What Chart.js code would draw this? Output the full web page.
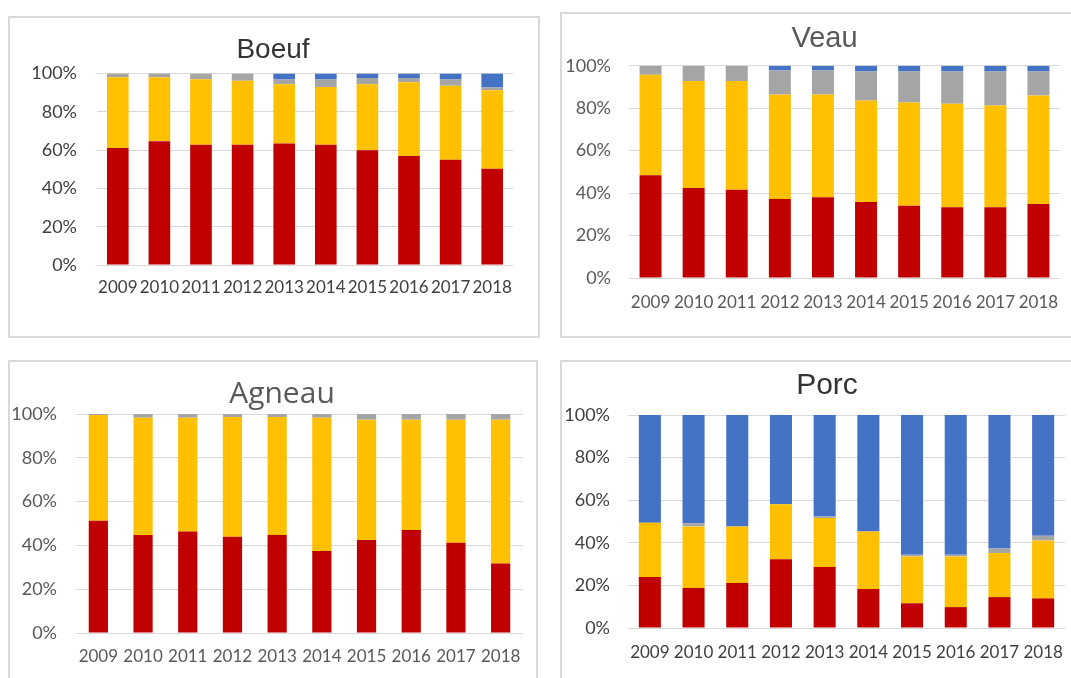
<!DOCTYPE html>
<html>
<head>
<meta charset="utf-8">
<script src="https://cdn.jsdelivr.net/npm/chart.js@4.4.1/dist/chart.umd.min.js"></script>
<style>
  html, body { margin: 0; padding: 0; background: #fff; }
  body { width: 1071px; height: 678px; overflow: hidden; position: relative; }
  .box { position: absolute; box-sizing: border-box; border: 2px solid #d9d9d9; background: #fff; }
  canvas { position: absolute; }
</style>
</head>
<body>
<div class="box" style="left:8px; top:16px; width:532px; height:322px;"></div>
<div class="box" style="left:560px; top:12px; width:540px; height:326px;"></div>
<div class="box" style="left:8px; top:360px; width:530px; height:340px;"></div>
<div class="box" style="left:560px; top:360px; width:540px; height:340px;"></div>

<canvas id="boeuf" style="left:10px; top:18px;" width="526" height="317"></canvas>
<canvas id="veau" style="left:562px; top:14px;" width="525" height="321"></canvas>
<canvas id="agneau" style="left:10px; top:362px;" width="544" height="316"></canvas>
<canvas id="porc" style="left:562px; top:362px;" width="530" height="316"></canvas>

<script>
const annees = ['2009', '2010', '2011', '2012', '2013', '2014', '2015', '2016', '2017', '2018'];
const ticksY = [0, 20, 40, 60, 80, 100];

// parts en %
const boeufRouge  = [61.1, 64.6, 62.8, 62.8, 63.5, 62.8, 60.0, 56.9, 55.0, 50.3];
const boeufJaune  = [37.0, 33.5, 34.2, 33.5, 30.9, 30.2, 34.4, 38.6, 38.7, 41.0];
const boeufGris   = [1.9, 1.9, 3.0, 3.7, 2.5, 3.9, 3.3, 2.2, 3.2, 1.5];
const boeufBleu   = [0, 0, 0, 0, 3.1, 3.1, 2.3, 2.3, 3.1, 7.2];

const veauRouge   = [48.4, 42.4, 41.6, 37.2, 38.0, 35.8, 34.1, 33.4, 33.4, 34.9];
const veauJaune   = [47.4, 50.4, 51.2, 49.3, 48.5, 47.9, 48.6, 48.7, 47.9, 51.1];
const veauGris    = [4.2, 7.2, 7.2, 11.3, 11.3, 13.6, 14.6, 15.2, 16.0, 11.3];
const veauBleu    = [0, 0, 0, 2.2, 2.2, 2.7, 2.7, 2.7, 2.7, 2.7];

const agneauRouge = [51.2, 44.8, 46.3, 43.9, 44.8, 37.5, 42.5, 47.0, 41.2, 31.7];
const agneauJaune = [48.3, 53.5, 52.0, 54.7, 53.8, 60.8, 54.9, 50.4, 56.2, 65.7];
const agneauGris  = [0.5, 1.7, 1.7, 1.4, 1.4, 1.7, 2.6, 2.6, 2.6, 2.6];
const agneauBleu  = [0, 0, 0, 0, 0, 0, 0, 0, 0, 0];

const porcRouge   = [23.9, 18.8, 21.1, 32.3, 28.6, 18.3, 11.6, 9.8, 14.5, 13.9];
const porcJaune   = [25.5, 28.9, 26.6, 25.8, 23.0, 27.0, 22.0, 23.8, 20.7, 27.2];
const porcGris    = [0, 1.5, 0, 0, 0.7, 0, 0.8, 0.8, 2.1, 2.2];
const porcBleu    = [50.6, 50.8, 52.3, 41.9, 47.7, 54.7, 65.6, 65.6, 62.7, 56.7];

const couleurs = ['#C00000', '#FFC000', '#A5A5A5', '#4472C4'];

function graphique(id, titre, series, o) {
    new Chart(document.getElementById(id), {
        type: 'bar',
        data: {
            labels: annees,
            datasets: series.map((d, i) => ({
                label: 'Série ' + (i + 1),
                data: d,
                backgroundColor: couleurs[i],
                borderWidth: 0,
                categoryPercentage: 1,
                barPercentage: o.bar
            }))
        },
        options: {
            responsive: false,
            animation: false,
            layout: { padding: 0 },
            scales: {
                x: {
                    stacked: true,
                    grid: { display: false, drawTicks: false },
                    border: { display: false },
                    ticks: {
                        padding: o.xPad,
                        maxRotation: 0,
                        autoSkip: false,
                        color: o.tickColor,
                        font: { family: 'Lato', size: 17 }
                    },
                    afterFit: s => { s.height = o.xHeight; }
                },
                y: {
                    stacked: true,
                    min: 0,
                    max: 100,
                    afterBuildTicks: s => { s.ticks = ticksY.map(v => ({ value: v })); },
                    grid: { color: '#d9d9d9', lineWidth: 1, drawTicks: false },
                    border: { display: false },
                    ticks: {
                        padding: o.yPad,
                        color: o.tickColor,
                        font: { family: 'Lato', size: 18 },
                        callback: v => v + '%'
                    },
                    afterFit: s => { s.width = o.yWidth; }
                },
                marge: {
                    axis: 'y',
                    position: 'right',
                    display: true,
                    grid: { display: false },
                    border: { display: false },
                    ticks: { display: false },
                    afterFit: s => { s.width = o.right; }
                }
            },
            plugins: {
                legend: { display: false },
                tooltip: { enabled: false },
                title: {
                    display: true,
                    text: titre,
                    color: o.titleColor,
                    padding: { top: o.tTop, bottom: o.tBottom },
                    font: { family: o.titleFont, size: o.titleSize, weight: 'normal' }
                }
            }
        }
    });
}

graphique('boeuf', 'Boeuf', [boeufRouge, boeufJaune, boeufGris, boeufBleu], {
    bar: 0.52, xPad: 12, xHeight: 70, yPad: 20, yWidth: 87, right: 23,
    tickColor: '#404040', titleColor: '#333333', titleFont: 'Liberation Sans',
    titleSize: 28, tTop: 15, tBottom: 7
});

graphique('veau', 'Veau', [veauRouge, veauJaune, veauGris, veauBleu], {
    bar: 0.51, xPad: 14, xHeight: 57, yPad: 18, yWidth: 67, right: 27,
    tickColor: '#595959', titleColor: '#595959', titleFont: 'Liberation Sans',
    titleSize: 29, tTop: 8, tBottom: 9
});

graphique('agneau', 'Agneau', [agneauRouge, agneauJaune, agneauGris, agneauBleu], {
    bar: 0.43, xPad: 13, xHeight: 45, yPad: 19, yWidth: 66, right: 31,
    tickColor: '#595959', titleColor: '#595959', titleFont: 'Open Sans',
    titleSize: 30, tTop: 14, tBottom: 2
});

graphique('porc', 'Porc', [porcRouge, porcJaune, porcGris, porcBleu], {
    bar: 0.505, xPad: 14, xHeight: 50, yPad: 18, yWidth: 66, right: 27,
    tickColor: '#404040', titleColor: '#333333', titleFont: 'Liberation Sans',
    titleSize: 30, tTop: 6, tBottom: 11
});
</script>
</body>
</html>
